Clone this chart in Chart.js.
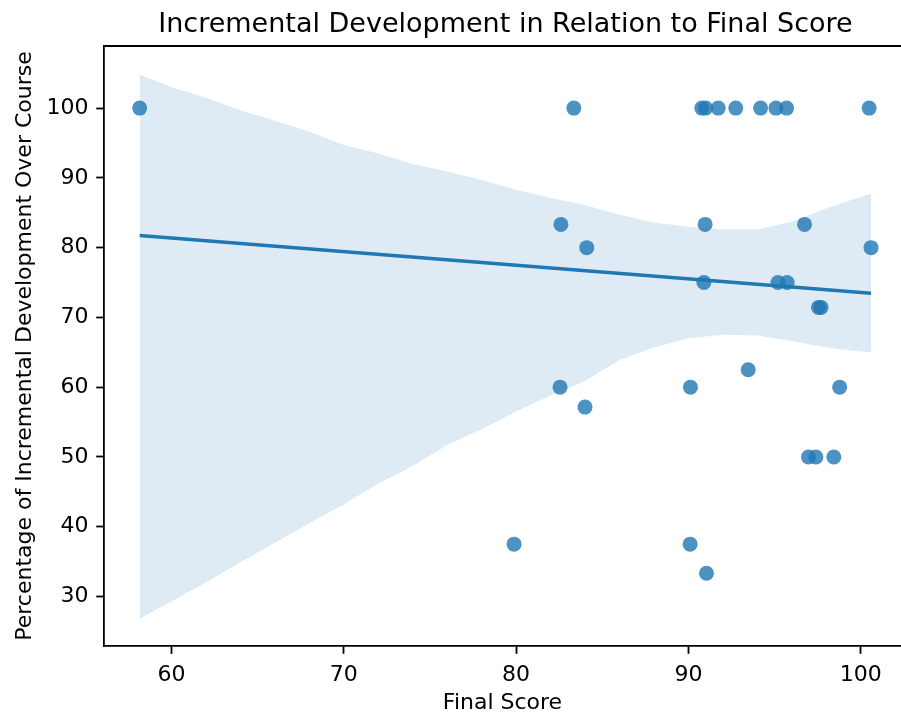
<!DOCTYPE html>
<html>
<head>
<meta charset="utf-8">
<script src="https://cdn.jsdelivr.net/npm/chart.js@4/dist/chart.umd.min.js"></script>
<style>
  html, body { margin: 0; padding: 0; background: #fff; }
  canvas { display: block; }
</style>
</head>
<body>
<canvas id="regChart" width="901" height="717"></canvas>
<script>
// scatter points: final score vs % incremental development
const finalScore = [58.15, 83.35, 90.78, 91.0, 91.73, 92.75, 94.19, 95.08, 95.7, 100.49,
    82.6, 90.97, 96.74, 84.1, 100.6, 90.9, 95.2, 95.73, 97.55, 97.7,
    93.47, 82.55, 90.12, 98.78, 84.0, 96.97, 97.4, 98.44, 79.88, 90.1, 91.05];
const incrementalPct = [100, 100, 100, 100, 100, 100, 100, 100, 100, 100,
    83.33, 83.33, 83.33, 80, 80, 75, 75, 75, 71.43, 71.43,
    62.5, 60, 60, 60, 57.14, 50, 50, 50, 37.5, 37.5, 33.33];

// fitted line ends
const fitX = [58.15, 100.6];
const fitY = [81.75, 73.45];

// confidence band
const bandX = [58.15, 60, 62, 64, 66, 68, 70, 72, 74, 76, 78, 80, 82, 84, 86, 88, 90, 92, 94, 96, 98, 100, 100.6];
const bandUpper = [104.8, 103.0, 101.5, 99.7, 98.2, 96.6, 94.7, 93.5, 92.0, 90.9, 89.7, 88.3,
    87.1, 86.1, 84.7, 83.6, 83.0, 82.6, 82.6, 83.7, 85.6, 87.3, 87.7];
const bandLower = [26.8, 29.3, 32.0, 34.9, 37.7, 40.5, 43.2, 46.2, 48.7, 51.7, 54.0, 56.5,
    58.8, 60.9, 63.9, 65.7, 67.0, 67.5, 67.4, 66.6, 65.7, 65.1, 65.0];

const xTicks = [60, 70, 80, 90, 100];
const yTicks = [30, 40, 50, 60, 70, 80, 90, 100];

const toPts = (xs, ys) => xs.map((x, i) => ({ x, y: ys[i] }));

const BLUE = '#1f77b4';
const FONT = 'DejaVu Sans';
const LW = 1.8;

// the axes box runs a little past the right edge of the picture,
// so the title is centred on that wider box, and only the top spine is drawn
const frame = {
    id: 'frame',
    afterLayout(chart) {
        const t = chart.titleBlock;
        if (t) {
            t.left = chart.chartArea.left;
            t.right = chart.chartArea.right + 6;
        }
    },
    afterDraw(chart) {
        const { ctx, chartArea } = chart;
        ctx.save();
        ctx.strokeStyle = '#000';
        ctx.lineWidth = LW;
        ctx.beginPath();
        ctx.moveTo(chartArea.left - LW / 2, chartArea.top);
        ctx.lineTo(chartArea.right, chartArea.top);
        ctx.stroke();
        ctx.restore();
    }
};

const noPad = s => { s.paddingLeft = 0; s.paddingRight = 0; s.paddingTop = 0; s.paddingBottom = 0; };

const axisCommon = {
    type: 'linear',
    grid: { display: true, drawOnChartArea: false, drawTicks: true, tickLength: 7.8, tickWidth: LW, tickColor: '#000' },
    border: { display: true, color: '#000', width: LW },
    ticks: { color: '#000', font: { family: FONT, size: 22 }, padding: 7.8 }
};

new Chart(document.getElementById('regChart'), {
    type: 'line',
    data: {
        datasets: [
            {
                label: 'fit',
                data: toPts(fitX, fitY),
                borderColor: BLUE,
                borderWidth: 3.5,
                pointRadius: 0,
                fill: false,
                order: 0
            },
            {
                label: 'ci upper',
                data: toPts(bandX, bandUpper),
                borderWidth: 0,
                borderColor: 'rgba(0,0,0,0)',
                pointRadius: 0,
                backgroundColor: 'rgba(31,119,180,0.15)',
                fill: '+1',
                tension: 0,
                order: 1
            },
            {
                label: 'ci lower',
                data: toPts(bandX, bandLower),
                borderWidth: 0,
                borderColor: 'rgba(0,0,0,0)',
                pointRadius: 0,
                fill: false,
                order: 1
            },
            {
                label: 'scores',
                data: toPts(finalScore, incrementalPct),
                showLine: false,
                pointRadius: 7.5,
                pointBorderWidth: 0,
                pointBackgroundColor: 'rgba(31,119,180,0.8)',
                order: 2
            }
        ]
    },
    options: {
        responsive: false,
        animation: false,
        events: [],
        layout: { padding: 0, autoPadding: false },
        plugins: {
            legend: { display: false },
            tooltip: { enabled: false },
            title: {
                display: true,
                text: 'Incremental Development in Relation to Final Score',
                color: '#000',
                font: { family: FONT, size: 27, weight: 'normal' },
                padding: { top: 8.3, bottom: 5.3 }
            }
        },
        scales: {
            x: {
                ...axisCommon,
                min: 56.08,
                max: 102.34,
                afterBuildTicks: s => { s.ticks = xTicks.map(v => ({ value: v })); },
                afterFit: s => { s.height = 71; noPad(s); },
                title: { display: true, text: 'Final Score', color: '#000', font: { family: FONT, size: 22 }, padding: { top: 0, bottom: 1 } }
            },
            y: {
                ...axisCommon,
                min: 22.9,
                max: 108.9,
                afterBuildTicks: s => { s.ticks = yTicks.map(v => ({ value: v })); },
                afterFit: s => { s.width = 104; noPad(s); },
                title: { display: true, text: 'Percentage of Incremental Development Over Course', color: '#000', font: { family: FONT, size: 22 }, padding: { top: 12, bottom: 0 } }
            }
        }
    },
    plugins: [frame]
});
</script>
</body>
</html>
